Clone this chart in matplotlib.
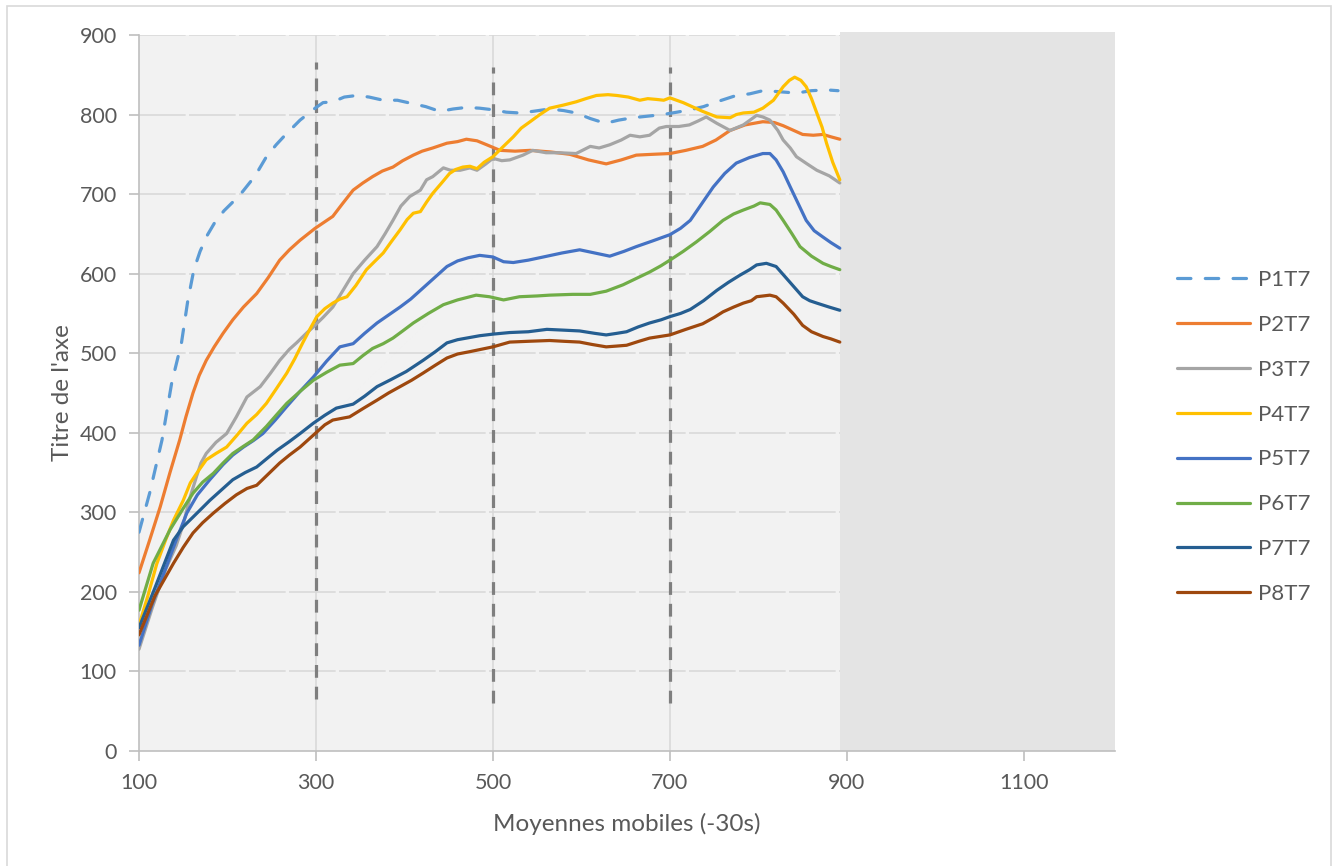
#!/usr/bin/env python

# Third-Party Packages
import matplotlib as mpl; mpl.use("Agg")
import matplotlib.pyplot as plt
from matplotlib.patches import Rectangle

# Matplotlib Configuration
# ------------------------------------------------------------------------------
rc = {
    "font.family": ["Lato", "DejaVu Sans"],
    "font.size": 15.5,
    "text.color": "#595959",
    "axes.labelcolor": "#595959",
    "xtick.color": "#bfbfbf",
    "ytick.color": "#bfbfbf",
    "xtick.labelcolor": "#595959",
    "ytick.labelcolor": "#595959",
}
mpl.rcParams.update(rc)

# Data
# ------------------------------------------------------------------------------
labels = ["P1T7", "P2T7", "P3T7", "P4T7", "P5T7", "P6T7", "P7T7", "P8T7"]
colors = ["#5B9BD5", "#ED7D31", "#A5A5A5", "#FFC000",
          "#4472C4", "#70AD47", "#255E91", "#9E480E"]

p1_x = [100, 112, 126, 137, 148, 155, 162, 169, 177, 186, 196, 206, 217, 227, 235, 244, 255, 265, 282, 299, 308,
        319, 332, 346, 360, 376, 392, 408, 424, 440, 455, 470, 485, 500, 515, 530, 545, 564, 580, 594, 610,
        627, 642, 658, 675, 692, 708, 723, 738, 753, 775, 790, 805, 820, 843, 860, 877, 890]
p1_y = [275, 324, 391, 463, 513, 565, 605, 628, 648, 665, 679, 690, 703, 717, 730, 747, 762, 774, 793, 808, 815,
        816, 822, 824, 822, 818, 818, 814, 810, 804, 807, 809, 808, 806, 803, 802, 804, 807, 805, 802, 795,
        789, 793, 796, 798, 800, 803, 806, 810, 816, 824, 826, 830, 829, 827, 830, 831, 830]

p2_x = [100, 112, 124, 135, 146, 153, 161, 168, 176, 185, 195, 206, 218, 233, 246, 259, 270, 282, 299, 319,
        330, 342, 353, 364, 375, 387, 398, 410, 420, 432, 448, 460, 470, 482, 493, 508, 525, 542, 565, 587,
        608, 628, 645, 662, 680, 700, 718, 737, 752, 768, 785, 805, 818, 828, 840, 850, 862, 873, 882, 892]
p2_y = [224, 265, 307, 350, 391, 420, 450, 472, 491, 508, 525, 542, 558, 575, 595, 617, 630, 642, 657, 672,
        688, 705, 714, 722, 729, 734, 742, 749, 754, 758, 764, 766, 769, 767, 762, 755, 754, 755, 753, 750,
        743, 738, 743, 749, 750, 751, 755, 760, 768, 780, 787, 791, 790, 786, 780, 775, 774, 775, 772, 769]

p3_x = [100, 115, 130, 142, 150, 158, 165, 170, 176, 187, 199, 210, 222, 237, 248, 259, 270, 278, 290, 297,
        308, 319, 330, 342, 355, 369, 378, 387, 396, 406, 418, 425, 432, 444, 452, 463, 474, 482, 492, 500,
        510, 519, 534, 545, 560, 575, 594, 610, 620, 632, 645, 655, 666, 677, 688, 696, 710, 722, 732, 741,
        753, 768, 783, 798, 805, 813, 822, 828, 836, 843, 855, 866, 880, 892]
p3_y = [128, 180, 228, 258, 285, 320, 345, 362, 374, 388, 399, 420, 445, 458, 474, 491, 505, 513, 526, 533,
        545, 558, 578, 600, 617, 634, 650, 667, 685, 697, 705, 718, 722, 733, 730, 730, 733, 730, 738, 745,
        742, 743, 749, 755, 752, 752, 751, 760, 758, 762, 768, 774, 772, 774, 783, 785, 785, 787, 792, 797,
        789, 780, 787, 799, 797, 793, 780, 768, 758, 747, 738, 730, 723, 714]

p4_x = [100, 110, 120, 130, 139, 150, 158, 167, 176, 187, 199, 210, 222, 233, 244, 255, 267, 276, 285, 293,
        301, 310, 319, 327, 335, 345, 357, 366, 376, 385, 395, 403, 410, 418, 425, 432, 442, 451, 458, 466,
        474, 482, 490, 500, 510, 523, 532, 542, 553, 564, 580, 594, 605, 617, 630, 640, 653, 666, 675, 685,
        693, 700, 715, 725, 737, 753, 768, 775, 783, 795, 805, 817, 828, 835, 841, 848, 854, 860, 866, 872,
        877, 884, 892]
p4_y = [158, 195, 235, 265, 290, 315, 337, 352, 366, 374, 382, 396, 412, 423, 437, 455, 475, 493, 513, 530,
        546, 556, 563, 568, 571, 585, 605, 615, 626, 640, 655, 668, 676, 678, 690, 701, 714, 726, 731, 734,
        735, 732, 740, 747, 758, 772, 783, 791, 800, 808, 812, 816, 820, 824, 825, 824, 822, 818, 820, 819,
        818, 821, 815, 810, 804, 797, 796, 800, 802, 803, 808, 818, 835, 843, 847, 843, 835, 820, 802, 784,
        764, 740, 718]

p5_x = [100, 115, 131, 142, 154, 166, 180, 195, 206, 218, 229, 240, 254, 267, 282, 297, 312, 327, 342, 355,
        369, 382, 395, 407, 418, 433, 448, 460, 472, 485, 500, 512, 523, 540, 557, 578, 598, 615, 632, 648,
        662, 680, 700, 712, 723, 736, 749, 762, 775, 790, 805, 813, 820, 828, 836, 845, 854, 863, 873, 882,
        892]
p5_y = [133, 185, 232, 265, 299, 322, 341, 360, 372, 382, 390, 399, 416, 433, 452, 470, 490, 508, 512, 525,
        538, 548, 558, 568, 579, 594, 609, 616, 620, 623, 621, 615, 614, 617, 621, 626, 630, 626, 622, 628,
        634, 641, 649, 657, 667, 688, 709, 726, 739, 746, 751, 751, 743, 728, 709, 688, 667, 654, 646, 639,
        632]

p6_x = [100, 116, 135, 150, 161, 172, 184, 195, 206, 218, 229, 244, 255, 267, 282, 297, 312, 327, 342, 353,
        364, 376, 387, 398, 410, 427, 444, 460, 481, 496, 512, 530, 550, 564, 590, 610, 628, 647, 662, 677,
        690, 700, 715, 730, 745, 760, 772, 783, 795, 802, 813, 820, 828, 838, 847, 860, 873, 882, 892]
p6_y = [177, 236, 278, 305, 324, 338, 349, 362, 374, 383, 391, 408, 422, 437, 452, 466, 476, 485, 487, 497,
        506, 512, 519, 528, 538, 550, 561, 567, 573, 571, 567, 571, 572, 573, 574, 574, 578, 586, 594, 602,
        610, 617, 628, 640, 653, 667, 675, 680, 685, 689, 687, 680, 667, 650, 634, 622, 613, 609, 605]

p7_x = [100, 118, 139, 150, 161, 171, 180, 193, 206, 220, 233, 245, 256, 270, 282, 297, 310, 323, 342, 355,
        369, 385, 402, 421, 435, 448, 460, 470, 485, 500, 519, 540, 561, 580, 598, 615, 628, 640, 651, 664,
        677, 690, 700, 712, 723, 738, 753, 766, 779, 790, 798, 809, 820, 835, 850, 858, 866, 880, 892]
p7_y = [155, 205, 265, 282, 294, 305, 315, 328, 341, 350, 357, 368, 378, 389, 399, 412, 422, 431, 436, 446,
        458, 467, 477, 491, 502, 513, 517, 519, 522, 524, 526, 527, 530, 529, 528, 525, 523, 525, 527, 533,
        538, 542, 546, 550, 555, 566, 579, 589, 598, 605, 611, 613, 609, 590, 571, 566, 563, 558, 554]

p8_x = [100, 118, 139, 150, 161, 172, 184, 197, 210, 222, 233, 246, 259, 270, 282, 299, 310, 319, 338, 354,
        369, 382, 395, 408, 421, 435, 448, 460, 474, 487, 500, 519, 540, 564, 580, 598, 612, 628, 640, 651,
        665, 677, 700, 718, 737, 750, 760, 772, 783, 792, 798, 813, 820, 828, 840, 850, 860, 873, 882, 892]
p8_y = [146, 195, 236, 256, 274, 287, 299, 311, 322, 330, 334, 348, 362, 372, 382, 399, 410, 416, 420, 431,
        441, 450, 458, 466, 475, 485, 494, 499, 502, 505, 508, 514, 515, 516, 515, 514, 511, 508, 509, 510,
        515, 519, 523, 530, 537, 545, 552, 558, 563, 566, 571, 573, 571, 563, 549, 535, 527, 521, 518, 514]

series_x = [p1_x, p2_x, p3_x, p4_x, p5_x, p6_x, p7_x, p8_x]
series_y = [p1_y, p2_y, p3_y, p4_y, p5_y, p6_y, p7_y, p8_y]

marker_x = [300, 500, 700]          # vertical dashed reference lines
marker_lo = [65, 60, 60]
marker_hi = [866, 860, 860]

x_ticks = [100, 300, 500, 700, 900, 1100]
y_ticks = [0, 100, 200, 300, 400, 500, 600, 700, 800, 900]
data_end = 892
x_max = 1203


def main():
    fig = plt.figure(figsize=(13.38, 8.66), dpi=100)
    ax = fig.add_axes([139/1338, 115/866, (1115-139)/1338, (751-35)/866])
    ax.set_facecolor("#f2f2f2")

    # chart border
    fig.patches.append(Rectangle((7/1338, -0.02), (1331-7)/1338, (866-6)/866 + 0.02,
                                 transform=fig.transFigure, fill=False,
                                 edgecolor="#d9d9d9", lw=1.2))

    # grid
    for y in y_ticks[1:]:
        ax.axhline(y, color="#d9d9d9", lw=1.2, dashes=(28, 2), zorder=0.5)
    for x in x_ticks[1:]:
        ax.axvline(x, color="#d9d9d9", lw=1.2, zorder=0.5)

    # darker area past the data
    ax.add_patch(Rectangle((data_end, 0), x_max - data_end, 904, facecolor="#e4e4e4",
                           edgecolor="none", zorder=1, clip_on=False))

    # reference lines
    for x, lo, hi in zip(marker_x, marker_lo, marker_hi):
        ax.plot([x, x], [lo, hi], color="#7f7f7f", lw=2.3, dashes=(4, 2.8), zorder=2)

    # series
    for xs, ys, lab, col in zip(series_x, series_y, labels, colors):
        if lab == "P1T7":
            ax.plot(xs, ys, color=col, lw=2.3, dashes=(4.2, 4.5), dash_capstyle="round",
                    label=lab, zorder=3)
        else:
            ax.plot(xs, ys, color=col, lw=2.3, solid_capstyle="round", label=lab, zorder=3)

    ax.set_xlim(100, x_max)
    ax.set_ylim(0, 900)
    ax.set_xticks(x_ticks)
    ax.set_yticks(y_ticks)
    ax.tick_params(axis="both", direction="out", length=7, width=1.2, labelsize=15.5)
    ax.tick_params(axis="x", pad=9)
    ax.tick_params(axis="y", pad=9)
    for side in ["top", "right"]:
        ax.spines[side].set_visible(False)
    for side in ["left", "bottom"]:
        ax.spines[side].set_color("#bfbfbf")
        ax.spines[side].set_linewidth(1.2)

    ax.set_xlabel("Moyennes mobiles (-30s)", fontsize=17.5, labelpad=14)
    ax.set_ylabel("Titre de l'axe", fontsize=17.5, labelpad=5)

    fig.legend(loc="center left", bbox_to_anchor=(1177/1338, (866-437)/866),
               frameon=False, fontsize=16, handlelength=3.3, handletextpad=0.35,
               labelspacing=1.12, borderpad=0, borderaxespad=0)

    fig.savefig("out.png", dpi=100)


if __name__ == "__main__":
    main()
